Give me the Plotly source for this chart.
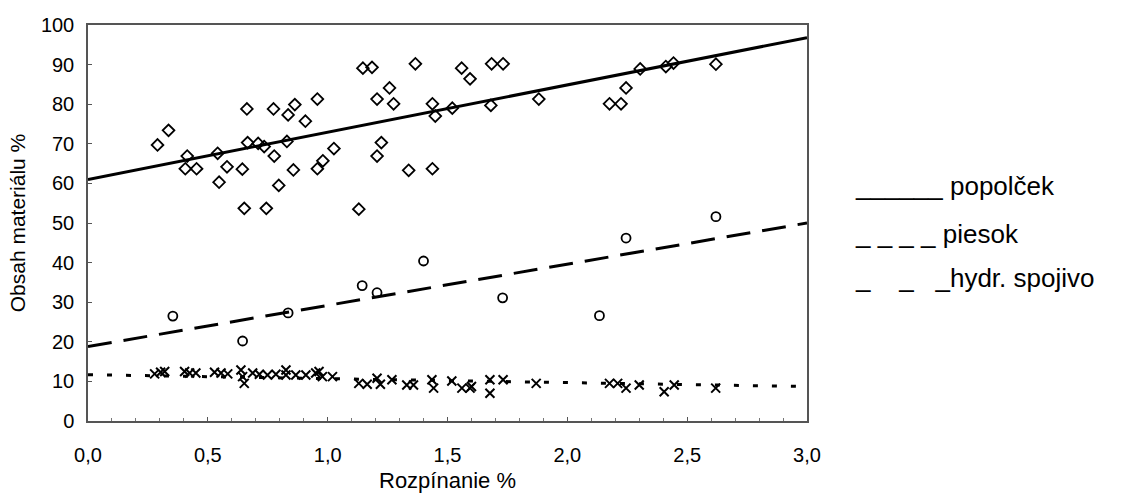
import plotly.graph_objects as go

# popolček (diamonds)
popol_x = [0.29, 0.336, 0.414, 0.406, 0.453, 0.541, 0.547, 0.58, 0.644, 0.652, 0.663, 0.666,
           0.71, 0.735, 0.744, 0.774, 0.777, 0.796, 0.83, 0.835, 0.857, 0.863, 0.907, 0.957,
           0.957, 0.98, 1.026, 1.13, 1.147, 1.185, 1.206, 1.206, 1.224, 1.258, 1.275, 1.338,
           1.366, 1.437, 1.437, 1.449, 1.52, 1.559, 1.594, 1.681, 1.684, 1.732, 1.881, 2.176,
           2.224, 2.245, 2.304, 2.411, 2.443, 2.62]
popol_y = [69.7, 73.4, 66.9, 63.7, 63.7, 67.6, 60.3, 64.2, 63.6, 53.7, 78.8, 70.3,
           70.1, 69.3, 53.7, 78.8, 66.9, 59.5, 70.6, 77.3, 63.4, 79.9, 75.7, 81.3,
           63.7, 65.7, 68.8, 53.5, 89.1, 89.3, 81.3, 66.9, 70.3, 84.1, 80.1, 63.3,
           90.2, 80.1, 63.7, 77.0, 79.0, 89.1, 86.4, 79.7, 90.2, 90.2, 81.3, 80.1,
           80.1, 84.1, 88.9, 89.5, 90.4, 90.1]

# piesok (circles)
piesok_x = [0.354, 0.645, 0.835, 1.144, 1.206, 1.40, 1.73, 2.134, 2.245, 2.62]
piesok_y = [26.5, 20.2, 27.3, 34.2, 32.4, 40.4, 31.1, 26.6, 46.2, 51.6]

# hydr. spojivo (crosses)
hydr_x = [0.278, 0.303, 0.32, 0.403, 0.424, 0.45, 0.528, 0.555, 0.583, 0.638, 0.645, 0.652,
          0.687, 0.715, 0.749, 0.784, 0.826, 0.826, 0.867, 0.909, 0.95, 0.964, 0.978, 1.02,
          1.13, 1.165, 1.206, 1.22, 1.268, 1.33, 1.358, 1.435, 1.442, 1.518, 1.56, 1.594,
          1.60, 1.677, 1.677, 1.732, 1.87, 2.176, 2.21, 2.245, 2.30, 2.404, 2.446, 2.619]
hydr_y = [11.9, 12.3, 12.5, 12.5, 12.1, 12.1, 12.3, 12.1, 11.9, 12.9, 11.2, 9.5,
          12.1, 11.8, 11.6, 11.8, 12.9, 11.6, 11.6, 11.6, 12.1, 12.5, 11.2, 11.2,
          9.5, 9.3, 10.8, 9.3, 10.4, 9.1, 9.1, 10.4, 8.3, 10.1, 8.3, 8.3,
          8.7, 10.4, 7.0, 10.4, 9.5, 9.5, 9.5, 8.3, 9.1, 7.4, 9.1, 8.3]

# trend lines (endpoints of fitted lines)
trend_x = [0.0, 3.0]
popol_trend = [61.0, 96.8]
piesok_trend = [18.8, 50.0]
hydr_trend = [11.7, 8.7]

x_ticks = [0.0, 0.5, 1.0, 1.5, 2.0, 2.5, 3.0]
y_ticks = [0, 10, 20, 30, 40, 50, 60, 70, 80, 90, 100]

legend_labels = ["______ popolček", "_ _ _ _ piesok", "_    _   _hydr. spojivo"]

FONT = "Liberation Sans, Arial, sans-serif"

fig = go.Figure()
fig.add_trace(go.Scatter(x=popol_x, y=popol_y, mode="markers",
                         marker=dict(symbol="diamond-open", size=9, color="black",
                                     line=dict(width=1.8, color="black")),
                         showlegend=False))
fig.add_trace(go.Scatter(x=piesok_x, y=piesok_y, mode="markers",
                         marker=dict(symbol="circle-open", size=9, color="black",
                                     line=dict(width=1.8, color="black")),
                         showlegend=False))
fig.add_trace(go.Scatter(x=hydr_x, y=hydr_y, mode="markers",
                         marker=dict(symbol="x-thin-open", size=9, color="black",
                                     line=dict(width=2, color="black")),
                         showlegend=False))
fig.add_trace(go.Scatter(x=trend_x, y=popol_trend, mode="lines",
                         line=dict(color="black", width=3), showlegend=False))
fig.add_trace(go.Scatter(x=trend_x, y=piesok_trend, mode="lines",
                         line=dict(color="black", width=3, dash="24px,12px"), showlegend=False))
fig.add_trace(go.Scatter(x=trend_x, y=hydr_trend, mode="lines",
                         line=dict(color="black", width=3, dash="5px,14px"), showlegend=False))

legend_y = [0.593, 0.472, 0.36]
for lab, yy in zip(legend_labels, legend_y):
    fig.add_annotation(text=lab, xref="paper", yref="paper", x=1.064, y=yy,
                       xanchor="left", yanchor="middle", showarrow=False,
                       font=dict(family=FONT, size=26, color="black"))

axis_common = dict(showline=True, linecolor="#555", linewidth=1.5, mirror=True,
                   ticks="inside", ticklen=4, tickcolor="#555", showgrid=False,
                   zeroline=False, tickfont=dict(family=FONT, size=20, color="black"))

fig.update_xaxes(range=[0, 3.0], tickvals=x_ticks, tickformat=".1f",
                 ticklabelstandoff=15,
                 title=dict(text="Rozpínanie %", font=dict(family=FONT, size=22, color="black"),
                            standoff=8),
                 minor=dict(dtick=0.1, ticks="inside", ticklen=3, tickcolor="#777"),
                 **axis_common)
fig.update_yaxes(range=[0, 100], tickvals=y_ticks, ticklabelstandoff=8,
                 title=dict(text="Obsah materiálu %", font=dict(family=FONT, size=21, color="black"),
                            standoff=10),
                 **axis_common)

fig.update_layout(width=1126, height=501, separators=", ",
                  plot_bgcolor="white", paper_bgcolor="white",
                  margin=dict(l=88, r=319, t=25, b=76))

fig.write_html("out.html")
